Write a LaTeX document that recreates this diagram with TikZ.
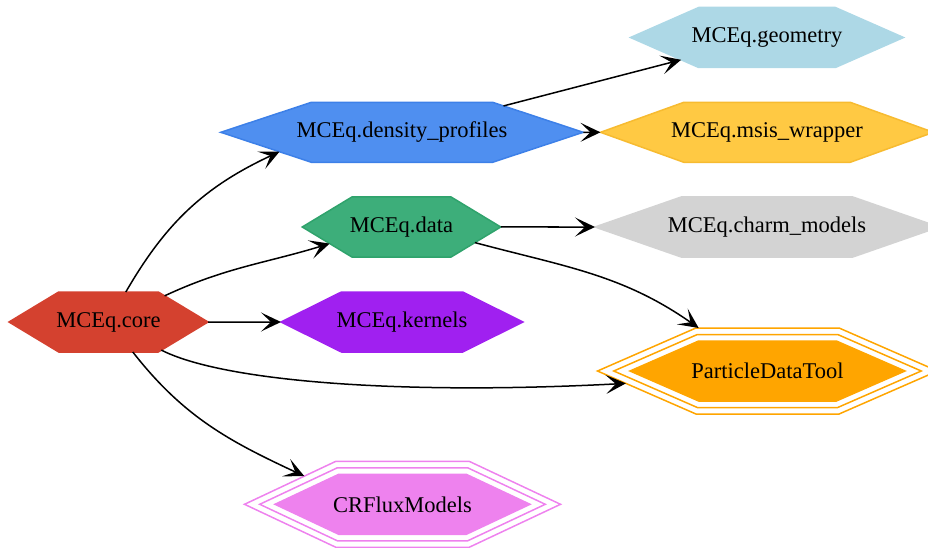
\documentclass[tikz,border=0pt]{standalone}
\usepackage{fontspec}
\setmainfont{Liberation Serif}
\usetikzlibrary{shapes.symbols,arrows.meta}
\definecolor{corecol}{HTML}{D4412F}
\definecolor{dpfill}{HTML}{4F8FF0}
\definecolor{dpdraw}{HTML}{3D80E8}
\definecolor{msisfill}{HTML}{FFC943}
\definecolor{msisdraw}{HTML}{F7BB30}
\definecolor{datafill}{HTML}{3DAE7A}
\definecolor{datadraw}{HTML}{2FA36C}
\definecolor{kercol}{HTML}{A020F0}
\definecolor{geocol}{HTML}{ADD8E6}
\definecolor{charmcol}{HTML}{D3D3D3}
\definecolor{pdtcol}{HTML}{FFA500}
\definecolor{crcol}{HTML}{EE82EE}
\tikzset{
  hexa/.code n args={3}{\tikzset{shape=signal, signal to=east and west,
      inner sep=0pt, outer sep=0pt, minimum width=#1pt, minimum height=#2pt,
      signal pointer angle=#3}},
  lbl/.style={font=\fontsize{22.5}{27}\selectfont},
  hexline/.style={line width=1.5pt},
  edge/.style={line width=1.5pt, -{Stealth[length=20pt,width=19pt,inset=10pt]}},
}
\newcommand{\hx}[1]{\makebox[0pt]{#1}}
\begin{document}
\begin{tikzpicture}[x=1pt,y=1pt]
\clip (0,0) rectangle (928,547);
% nodes
\node[hexa={199}{60}{62.2}, hexline, fill=corecol, draw=corecol, lbl] (core) at (108.5,225) {\hx{MCEq.core}};
\node[hexa={242}{60}{52.8}, hexline, fill=kercol, draw=kercol, lbl] (kernels) at (402,225) {\hx{MCEq.kernels}};
\node[hexa={198.5}{60}{62.3}, hexline, fill=datafill, draw=datadraw, lbl] (data) at (401.5,320) {\hx{MCEq.data}};
\node[hexa={362.5}{60}{36.6}, hexline, fill=dpfill, draw=dpdraw, lbl] (dp) at (402,414.7) {\hx{MCEq.density\_profiles}};
\node[hexa={273}{60}{47.5}, hexline, fill=geocol, draw=geocol, lbl] (geometry) at (767,509.5) {\hx{MCEq.geometry}};
\node[hexa={333}{60}{39.6}, hexline, fill=msisfill, draw=msisdraw, lbl] (msis) at (767,414.7) {\hx{MCEq.msis\_wrapper}};
\node[hexa={344}{60}{38.4}, hexline, fill=charmcol, draw=charmcol, lbl] (charm) at (767,320) {\hx{MCEq.charm\_models}};
% ParticleDataTool (three peripheries)
\node[hexa={275}{60}{47.2}, hexline, fill=pdtcol, draw=pdtcol] (pdtin) at (767.5,176) {};
\node[hexa={307.5}{73}{47.2}, hexline, draw=pdtcol] (pdtmid) at (767.5,176) {};
\node[hexa={340}{86}{47.2}, hexline, draw=pdtcol, lbl] (pdt) at (767.5,176) {\hx{ParticleDataTool}};
% CRFluxModels (three peripheries)
\node[hexa={255}{60}{50.4}, hexline, fill=crcol, draw=crcol] (crin) at (402.5,42.7) {};
\node[hexa={285.5}{73}{50.4}, hexline, draw=crcol] (crmid) at (402.5,42.7) {};
\node[hexa={316}{86}{50.4}, hexline, draw=crcol, lbl] (cr) at (402.5,42.7) {\hx{CRFluxModels}};
% edges
\draw[edge] (core) to[out=60,in=205] (dp.189);
\draw[edge] (core.25) to[out=25,in=197] (data.193);
\draw[edge] (core) -- (kernels);
\draw[edge] (core.-28) .. controls +(-27:68) and +(183:230) .. (pdt.185);
\draw[edge] (core.-51) to[out=-52,in=155] (cr.164);
\draw[edge] (dp) -- (geometry);
\draw[edge] (dp) -- (msis);
\draw[edge] (data) -- (charm);
\draw[edge] (data.-12) to[out=-15,in=145] (pdt.148);
\end{tikzpicture}
\end{document}
